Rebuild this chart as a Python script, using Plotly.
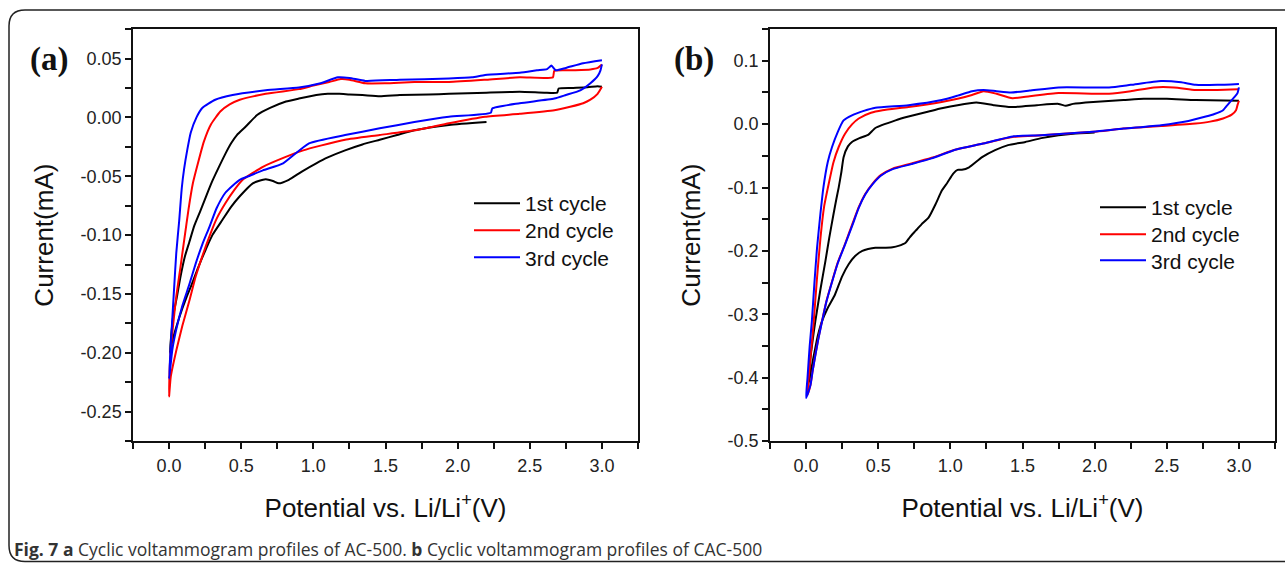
import plotly.graph_objects as go

# Reference picture is 1285 x 563; the photographed page shows ~2% more height than that,
# so the layout is built on a canvas stretched by S in y.
W, H_REF = 1285, 563
S = 1 / 0.98
H = 575

# ---------------- data: panel (a) AC-500 ----------------
a1_v = [2.20, 1.94, 1.70, 1.58, 1.46, 1.34, 1.22, 1.10, 1.02, 0.92, 0.83, 0.76, 0.72, 0.67, 0.62, 0.58,
        0.49, 0.43, 0.37, 0.30, 0.255, 0.20, 0.16, 0.12, 0.09, 0.05, 0.02, 0.005,
        0.015, 0.028, 0.055, 0.078, 0.11, 0.14, 0.175, 0.215, 0.26, 0.30, 0.35, 0.39, 0.43, 0.47, 0.53,
        0.61, 0.70, 0.81, 0.90, 1.02, 1.10, 1.18, 1.25, 1.34, 1.46, 1.60, 1.80, 1.94, 2.20, 2.43,
        2.60, 2.69, 2.70, 2.80, 2.90, 2.97, 3.00]
a1_i = [-0.004, -0.0065, -0.011, -0.015, -0.019, -0.023, -0.028, -0.034, -0.039, -0.046, -0.053, -0.056,
        -0.054, -0.0525, -0.054, -0.056, -0.067, -0.076, -0.087, -0.100, -0.112, -0.128, -0.141, -0.153,
        -0.163, -0.178, -0.191, -0.200,
        -0.185, -0.169, -0.152, -0.136, -0.118, -0.106, -0.092, -0.080, -0.066, -0.054, -0.041, -0.031,
        -0.022, -0.015, -0.008, 0.002, 0.008, 0.0135, 0.016, 0.019, 0.020, 0.020, 0.0195, 0.019, 0.018,
        0.019, 0.0195, 0.020, 0.021, 0.0217, 0.021, 0.021, 0.0245, 0.025, 0.0255, 0.0265, 0.026]

a2_v = [3.00, 2.97, 2.92, 2.87, 2.78, 2.67, 2.43, 2.19, 1.94, 1.70, 1.46, 1.22, 1.05, 0.93, 0.80, 0.65,
        0.51, 0.45, 0.39, 0.33, 0.28, 0.23, 0.185, 0.14, 0.092, 0.05, 0.012, 0.0,
        0.005, 0.025, 0.05, 0.078, 0.105, 0.135, 0.165, 0.20, 0.24, 0.29, 0.355, 0.42, 0.49, 0.67, 0.90,
        1.00, 1.11, 1.19, 1.25, 1.36, 1.50, 1.70, 1.94, 2.20, 2.43, 2.66, 2.67, 2.80, 2.92, 2.97, 3.00]
a2_i = [0.026, 0.020, 0.015, 0.012, 0.009, 0.006, 0.003, 0.0005, -0.005, -0.011, -0.015, -0.019, -0.024,
        -0.028, -0.034, -0.042, -0.053, -0.062, -0.073, -0.086, -0.101, -0.118, -0.135, -0.156, -0.177,
        -0.198, -0.220, -0.237,
        -0.211, -0.180, -0.152, -0.128, -0.104, -0.078, -0.056, -0.039, -0.021, -0.006, 0.005, 0.011,
        0.015, 0.020, 0.024, 0.027, 0.030, 0.0325, 0.032, 0.029, 0.029, 0.030, 0.030, 0.032, 0.034, 0.034,
        0.0395, 0.040, 0.0407, 0.042, 0.045]

a3_v = [3.00, 2.99, 2.97, 2.92, 2.85, 2.75, 2.67, 2.43, 2.24, 2.23, 1.94, 1.70, 1.46, 1.22, 0.97, 0.79,
        0.65, 0.55, 0.49, 0.44, 0.39, 0.33, 0.28, 0.23, 0.185, 0.14, 0.092, 0.05, 0.023, 0.0,
        0.01, 0.035, 0.05, 0.07, 0.088, 0.104, 0.127, 0.15, 0.19, 0.23, 0.32, 0.44, 0.67, 0.90, 1.05,
        1.17, 1.25, 1.36, 1.60, 1.94, 2.10, 2.19, 2.43, 2.55, 2.62, 2.65, 2.68, 2.75, 2.87, 3.00]
a3_i = [0.045, 0.040, 0.035, 0.029, 0.023, 0.019, 0.016, 0.012, 0.0076, 0.004, 0.0005, -0.004, -0.0093,
        -0.015, -0.022, -0.039, -0.045, -0.050, -0.053, -0.058, -0.064, -0.077, -0.093, -0.108, -0.124,
        -0.142, -0.160, -0.180, -0.197, -0.222,
        -0.197, -0.145, -0.115, -0.088, -0.060, -0.044, -0.027, -0.013, 0.000, 0.008, 0.015, 0.019,
        0.023, 0.0254, 0.029, 0.034, 0.0335, 0.031, 0.032, 0.033, 0.034, 0.036, 0.038, 0.040, 0.041,
        0.044, 0.040, 0.042, 0.046, 0.0486]

# ---------------- data: panel (b) CAC-500 ----------------
b1_v = [2.00, 1.85, 1.75, 1.63, 1.52, 1.40, 1.31, 1.22, 1.13, 1.08, 1.05, 1.02, 0.98, 0.94, 0.90, 0.85,
        0.80, 0.76, 0.72, 0.69, 0.64, 0.60, 0.53, 0.48, 0.43, 0.39, 0.34, 0.295, 0.25, 0.20, 0.15, 0.11,
        0.08, 0.064, 0.045, 0.03, 0.015,
        0.03, 0.064, 0.10, 0.134, 0.16, 0.19, 0.21, 0.226, 0.245, 0.26, 0.29, 0.318, 0.37, 0.43, 0.48,
        0.62, 0.71, 0.85, 0.94, 1.05, 1.18, 1.30, 1.42, 1.60, 1.75, 1.80, 1.85, 1.99, 2.20, 2.34, 2.50,
        2.70, 3.00]
b1_i = [-0.013, -0.015, -0.0175, -0.022, -0.028, -0.033, -0.041, -0.052, -0.068, -0.072, -0.072, -0.078,
        -0.092, -0.105, -0.125, -0.147, -0.158, -0.168, -0.178, -0.187, -0.192, -0.194, -0.195, -0.195,
        -0.197, -0.200, -0.208, -0.221, -0.240, -0.269, -0.290, -0.311, -0.335, -0.353, -0.375, -0.396,
        -0.410,
        -0.370, -0.311, -0.260, -0.216, -0.180, -0.142, -0.118, -0.100, -0.075, -0.052, -0.035, -0.028,
        -0.022, -0.017, -0.006, 0.006, 0.012, 0.020, 0.025, 0.030, 0.034, 0.030, 0.027, 0.030, 0.032,
        0.029, 0.032, 0.035, 0.038, 0.040, 0.040, 0.038, 0.037]

b2_v = [3.00, 2.99, 2.98, 2.95, 2.89, 2.80, 2.70, 2.46, 2.20, 1.99, 1.63, 1.44, 1.22, 1.04, 0.87, 0.73,
        0.60, 0.52, 0.46, 0.41, 0.365, 0.32, 0.27, 0.22, 0.18, 0.14, 0.11, 0.085, 0.064, 0.045, 0.03, 0.01,
        0.03, 0.053, 0.075, 0.10, 0.125, 0.157, 0.19, 0.226, 0.27, 0.32, 0.365, 0.45, 0.53, 0.71, 0.94,
        1.05, 1.15, 1.23, 1.32, 1.43, 1.55, 1.75, 2.10, 2.25, 2.41, 2.55, 2.70, 2.85, 3.00]
b2_i = [0.037, 0.030, 0.022, 0.015, 0.009, 0.004, 0.001, -0.003, -0.007, -0.012, -0.0175, -0.020, -0.031,
        -0.040, -0.053, -0.062, -0.070, -0.080, -0.094, -0.110, -0.131, -0.158, -0.189, -0.218, -0.248,
        -0.280, -0.311, -0.338, -0.364, -0.390, -0.412, -0.427,
        -0.370, -0.311, -0.245, -0.179, -0.130, -0.094, -0.060, -0.036, -0.015, 0.000, 0.009, 0.018,
        0.022, 0.027, 0.035, 0.040, 0.046, 0.052, 0.048, 0.041, 0.044, 0.049, 0.048, 0.052, 0.058, 0.058,
        0.054, 0.054, 0.055]

b3_v = [3.00, 2.99, 2.97, 2.95, 2.92, 2.89, 2.83, 2.77, 2.65, 2.46, 2.20, 1.99, 1.63, 1.44, 1.22, 1.04,
        0.87, 0.73, 0.60, 0.52, 0.46, 0.41, 0.365, 0.32, 0.27, 0.22, 0.18, 0.14, 0.11, 0.085, 0.064, 0.045,
        0.03, 0.0,
        0.01, 0.025, 0.04, 0.058, 0.076, 0.10, 0.12, 0.15, 0.18, 0.22, 0.26, 0.318, 0.40, 0.48, 0.71, 0.94,
        1.05, 1.15, 1.23, 1.32, 1.42, 1.55, 1.75, 2.10, 2.25, 2.46, 2.60, 2.70, 2.85, 3.00]
b3_i = [0.058, 0.049, 0.043, 0.038, 0.030, 0.022, 0.016, 0.012, 0.005, -0.0016, -0.007, -0.012, -0.0175,
        -0.019, -0.031, -0.040, -0.054, -0.063, -0.071, -0.081, -0.095, -0.111, -0.132, -0.160, -0.190,
        -0.219, -0.249, -0.281, -0.312, -0.339, -0.365, -0.390, -0.412, -0.432,
        -0.400, -0.350, -0.311, -0.250, -0.195, -0.140, -0.100, -0.060, -0.036, -0.012, 0.006, 0.014,
        0.021, 0.026, 0.030, 0.038, 0.045, 0.052, 0.054, 0.052, 0.050, 0.053, 0.058, 0.058, 0.062, 0.068,
        0.066, 0.062, 0.062, 0.0635]

cycle_names = ["1st cycle", "2nd cycle", "3rd cycle"]
cycle_colors = ["#000000", "#ff0000", "#0000ff"]

x_ticks = [0.0, 0.5, 1.0, 1.5, 2.0, 2.5, 3.0]
x_ticktext = ["0.0", "0.5", "1.0", "1.5", "2.0", "2.5", "3.0"]
ya_ticks = [0.05, 0.00, -0.05, -0.10, -0.15, -0.20, -0.25]
ya_ticktext = ["0.05", "0.00", "-0.05", "-0.10", "-0.15", "-0.20", "-0.25"]
yb_ticks = [0.1, 0.0, -0.1, -0.2, -0.3, -0.4, -0.5]
yb_ticktext = ["0.1", "0.0", "-0.1", "-0.2", "-0.3", "-0.4", "-0.5"]

x_title = "Potential vs. Li/Li<sup>+</sup>(V)"
y_title = "Current(mA)"
caption = ("<b>Fig. 7 a</b> Cyclic voltammogram profiles of AC-500. "
           "<b>b</b> Cyclic voltammogram profiles of CAC-500")

# ---------------- helpers (reference-pixel -> paper) ----------------
def px(x):
    return x / W

def py(y):
    return 1 - (y * S) / H

# ---------------- figure ----------------
fig = go.Figure()

panel_a = [(a1_v, a1_i), (a2_v, a2_i), (a3_v, a3_i)]
panel_b = [(b1_v, b1_i), (b2_v, b2_i), (b3_v, b3_i)]
legend_ids_a = ["legend", "legend2", "legend3"]
legend_ids_b = ["legend4", "legend5", "legend6"]

for k, (v, i) in enumerate(panel_a):
    fig.add_trace(go.Scatter(x=v, y=i, mode="lines", name=cycle_names[k],
                             line=dict(color=cycle_colors[k], width=2, shape="spline", smoothing=0.5),
                             xaxis="x", yaxis="y", legend=legend_ids_a[k]))
for k, (v, i) in enumerate(panel_b):
    fig.add_trace(go.Scatter(x=v, y=i, mode="lines", name=cycle_names[k],
                             line=dict(color=cycle_colors[k], width=2, shape="spline", smoothing=0.5),
                             xaxis="x2", yaxis="y2", legend=legend_ids_b[k]))

FONT = "Arial, Liberation Sans, sans-serif"
tickfont = dict(family=FONT, size=18, color="#222222")
titlefont = dict(family=FONT, size=26, color="#111111")

def xaxis_style(domain, anchor):
    return dict(domain=domain, anchor=anchor, range=[-0.25, 3.25],
                tickmode="array", tickvals=x_ticks, ticktext=x_ticktext,
                ticks="outside", ticklen=6, tickwidth=1.5, tickcolor="#111111",
                ticklabelstandoff=1,
                minor=dict(tick0=0, dtick=0.25, ticks="outside", ticklen=6, tickwidth=1.5,
                           tickcolor="#111111"),
                showline=True, linecolor="#111111", linewidth=1.5, mirror=True,
                showgrid=False, zeroline=False, tickfont=tickfont,
                title=dict(text=x_title, font=titlefont, standoff=24))

def yaxis_style(domain, anchor, rng, tv, tt, minor_d):
    return dict(domain=domain, anchor=anchor, range=rng,
                tickmode="array", tickvals=tv, ticktext=tt,
                ticks="outside", ticklen=6, tickwidth=1.5, tickcolor="#111111",
                minor=dict(tick0=0, dtick=minor_d, ticks="outside", ticklen=6, tickwidth=1.5,
                           tickcolor="#111111"),
                showline=True, linecolor="#111111", linewidth=1.5, mirror=True,
                showgrid=False, zeroline=False, tickfont=tickfont,
                title=dict(text=y_title, font=titlefont, standoff=20))

def legend_at(xpx, ypx):
    return dict(x=px(xpx), y=py(ypx), xanchor="left", yanchor="middle",
                bgcolor="rgba(0,0,0,0)", borderwidth=0, itemwidth=46,
                font=dict(family=FONT, size=21, color="#111111"))

ydom = [py(440), py(29)]
fig.update_layout(
    width=W, height=H, autosize=False,
    margin=dict(l=0, r=0, t=0, b=0),
    paper_bgcolor="white", plot_bgcolor="white",
    xaxis=xaxis_style([px(133), px(638)], "y"),
    yaxis=yaxis_style(ydom, "x", [-0.275, 0.075], ya_ticks, ya_ticktext, 0.025),
    xaxis2=xaxis_style([px(770), px(1275)], "y2"),
    yaxis2=yaxis_style(ydom, "x2", [-0.5, 0.15], yb_ticks, yb_ticktext, 0.05),
    legend=legend_at(469, 203),
    legend2=legend_at(469, 230),
    legend3=legend_at(469, 257),
    legend4=legend_at(1095, 207),
    legend5=legend_at(1095, 234),
    legend6=legend_at(1095, 260),
    showlegend=True,
)

# panel labels
for lbl, xc in (("(a)", 49), ("(b)", 694)):
    fig.add_annotation(x=px(xc), y=py(59), xref="paper", yref="paper", text=f"<b>{lbl}</b>",
                       showarrow=False, xanchor="center", yanchor="middle",
                       font=dict(family="Liberation Serif, Times New Roman, serif", size=33,
                                 color="#111111"))

# caption
fig.add_annotation(x=px(12), y=py(548), xref="paper", yref="paper", text=caption,
                   showarrow=False, xanchor="left", yanchor="middle",
                   font=dict(family="Open Sans, Noto Sans, sans-serif", size=17.5, color="#333333"))

# rounded frame around the figure (right side runs off the page)
r = 16
frame = (f"M {px(1285)},{py(10)} L {px(9 + r)},{py(10)} Q {px(9)},{py(10)} {px(9)},{py(10 + r)} "
         f"L {px(9)},{py(560 - r)} Q {px(9)},{py(560)} {px(9 + r)},{py(560)} L {px(1285)},{py(560)}")
fig.add_shape(type="path", path=frame, xref="paper", yref="paper",
              line=dict(color="#222222", width=1.5))

fig.write_html("out.html")
